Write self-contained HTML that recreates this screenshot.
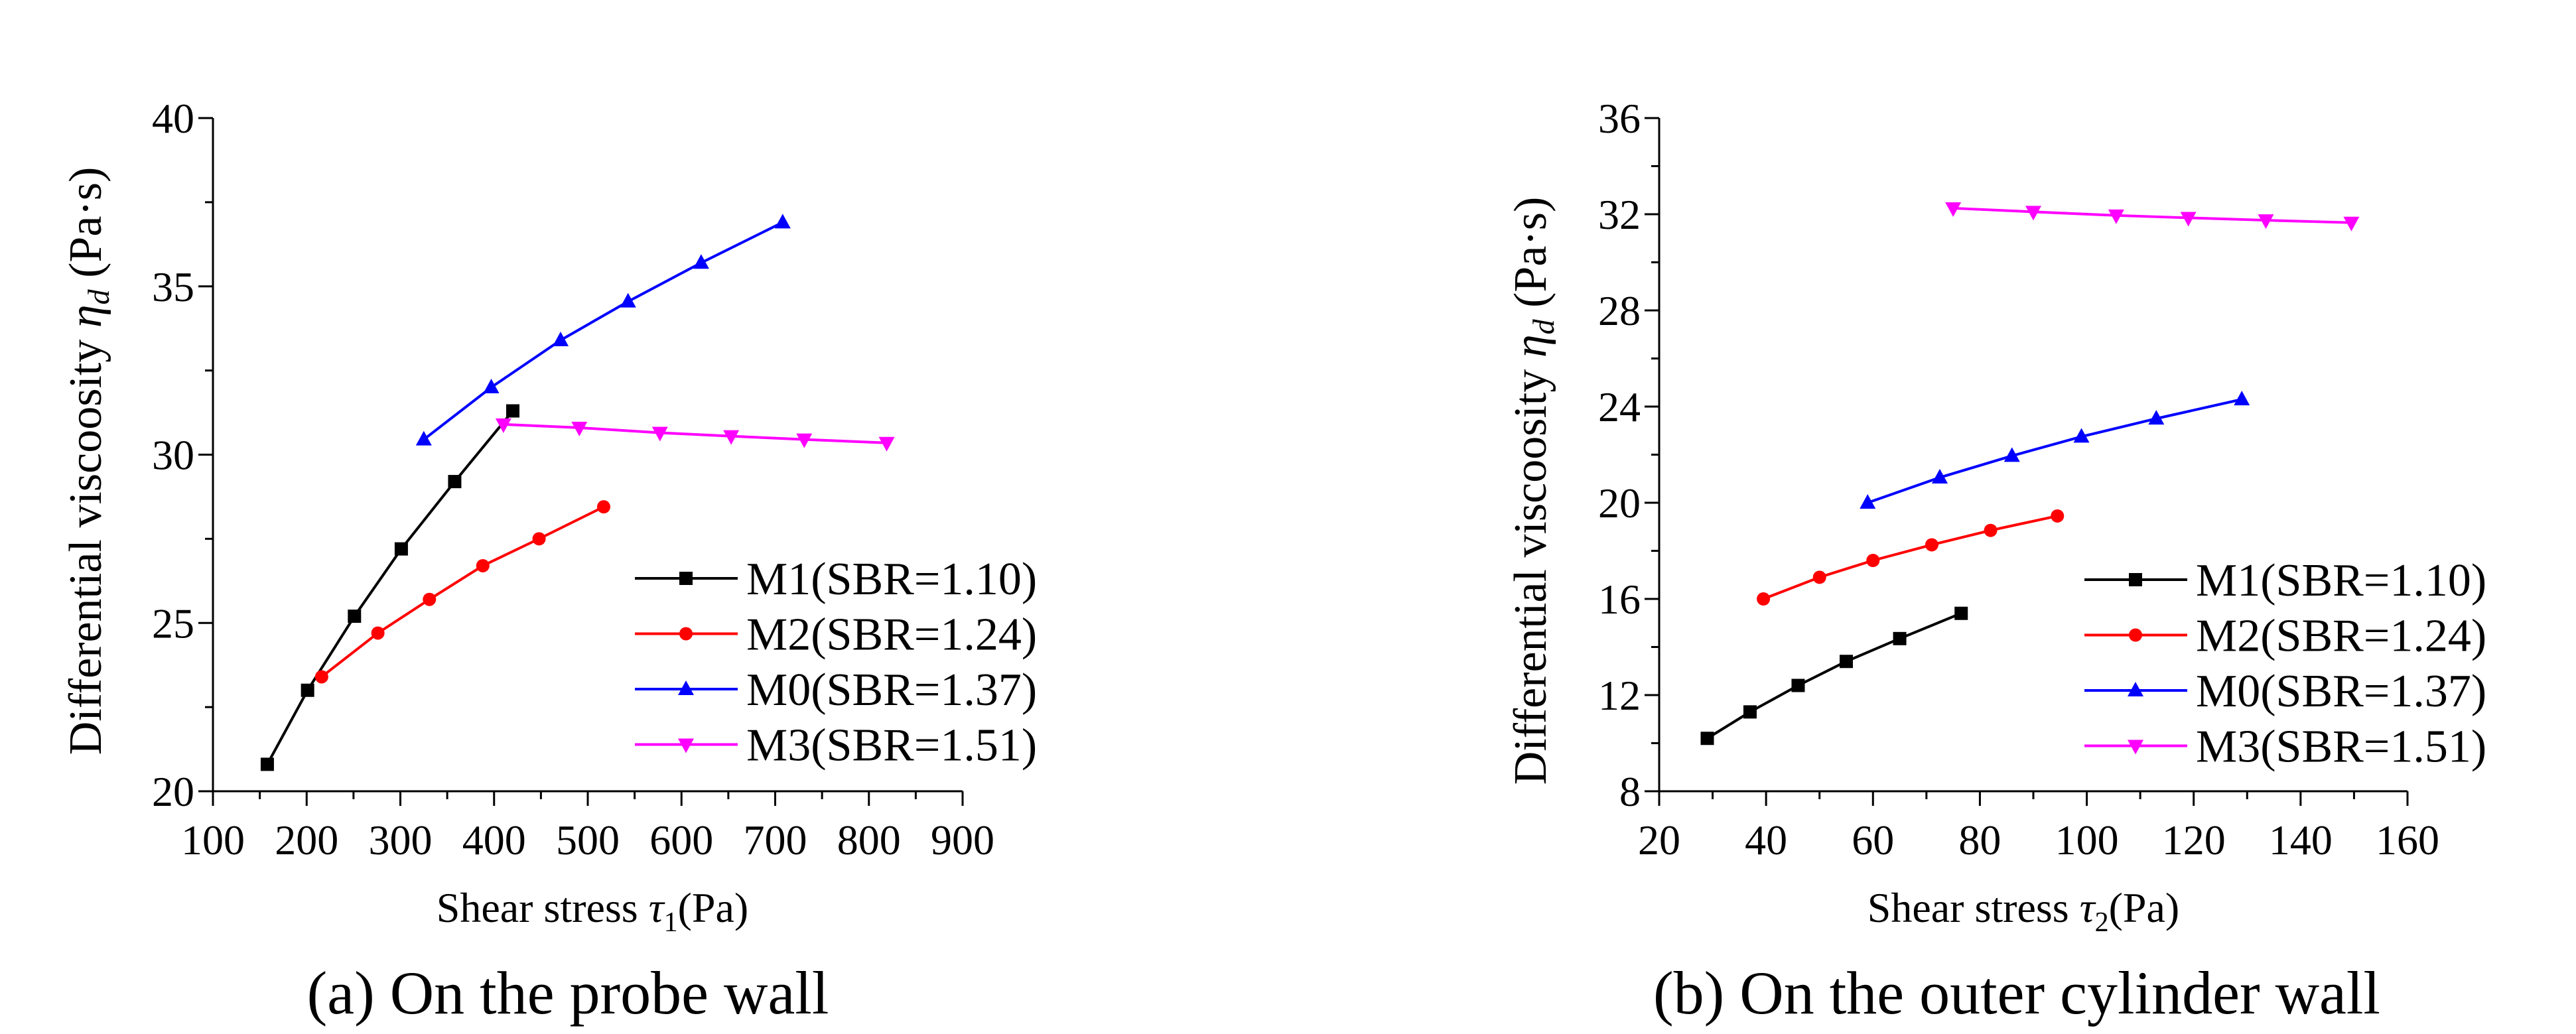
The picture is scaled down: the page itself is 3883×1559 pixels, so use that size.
<!DOCTYPE html>
<html><head><meta charset="utf-8"><style>
html,body{margin:0;padding:0;background:#fff;}
svg{display:block;}
svg text{font-family:"Liberation Serif","DejaVu Serif",serif;fill:#000;}
</style></head><body>
<svg id="fig" width="3883" height="1559" viewBox="0 0 3883 1559" xmlns="http://www.w3.org/2000/svg" font-family="'Liberation Serif', serif">
<rect width="3883" height="1559" fill="#fff"/>
</svg>
<script>
// ---- Panel (a) data ----
const aM1x=[158,201,251,301,358,420];
const aM1y=[20.8,23.0,25.2,27.2,29.2,31.3];
const aM2x=[216,276,331,388,448,517];
const aM2y=[23.4,24.7,25.7,26.7,27.5,28.45];
const aM0x=[325,397,471,543,621,708];
const aM0y=[30.45,32.0,33.4,34.55,35.7,36.9];
const aM3x=[410,491,577,653,731,819];
const aM3y=[30.9,30.8,30.65,30.55,30.45,30.35];
const aXTicks=[100,200,300,400,500,600,700,800,900];
const aYTicks=[20,25,30,35,40];
// ---- Panel (b) data ----
const bM1x=[29,37,46,55,65,76.5];
const bM1y=[10.2,11.3,12.4,13.4,14.35,15.4];
const bM2x=[39.5,50,60,71,82,94.5];
const bM2y=[16.0,16.9,17.6,18.25,18.85,19.45];
const bM0x=[59,72.5,86,99,113,129];
const bM0y=[20.0,21.05,21.95,22.75,23.5,24.3];
const bM3x=[75,90,105.5,119,133.5,149.5];
const bM3y=[32.25,32.1,31.95,31.85,31.75,31.65];
const bXTicks=[20,40,60,80,100,120,140,160];
const bYTicks=[8,12,16,20,24,28,32,36];
const legendLabels=["M1(SBR=1.10)","M2(SBR=1.24)","M0(SBR=1.37)","M3(SBR=1.51)"];
const seriesColors=["#000000","#ff0000","#0000ff","#ff00ff"];
const seriesMarkers=["square","circle","up","down"];

const NS="http://www.w3.org/2000/svg";
const svg=document.getElementById('fig');
const FF="Liberation Serif, serif";
function mk(tag,attrs,parent){const e=document.createElementNS(NS,tag);for(const k in attrs)e.setAttribute(k,attrs[k]);if(tag==='text')e.setAttribute('font-family',FF);(parent||svg).appendChild(e);return e;}

function marker(g,type,cx,cy,color){
  let e;
  if(type==='square'){e=mk('rect',{x:cx-10,y:cy-10,width:20,height:20,fill:color},g);}
  else if(type==='circle'){e=mk('circle',{cx:cx,cy:cy,r:10,fill:color},g);}
  else if(type==='up'){e=mk('polygon',{points:`${cx},${cy-13} ${cx+12},${cy+9} ${cx-12},${cy+9}`,fill:color},g);}
  else {e=mk('polygon',{points:`${cx},${cy+13} ${cx+12},${cy-9} ${cx-12},${cy-9}`,fill:color},g);}
  
  
}

function panel(cfg){
  const g=mk('g',{});
  
  
  const X=v=>cfg.x0+(v-cfg.xmin)/(cfg.xmax-cfg.xmin)*(cfg.x1-cfg.x0);
  const Y=v=>cfg.y0-(v-cfg.ymin)/(cfg.ymax-cfg.ymin)*(cfg.y0-cfg.y1);
  const ax=mk('line',{x1:cfg.x0-1.5,y1:cfg.y0,x2:cfg.x1,y2:cfg.y0,stroke:'#000','stroke-width':3},g);
  
  
  const ay=mk('line',{x1:cfg.x0,y1:cfg.y0,x2:cfg.x0,y2:cfg.y1,stroke:'#000','stroke-width':3},g);
  
  
  cfg.xt.forEach((v,i)=>{
    const x=X(v);
    mk('line',{x1:x,y1:cfg.y0,x2:x,y2:cfg.y0+22,stroke:'#000','stroke-width':3},g);
    if(i<cfg.xt.length-1){const xm=X((v+cfg.xt[i+1])/2);mk('line',{x1:xm,y1:cfg.y0,x2:xm,y2:cfg.y0+12,stroke:'#000','stroke-width':3},g);}
    const t=mk('text',{x:x,y:cfg.y0+95,'font-size':64,'text-anchor':'middle'},g);
    t.textContent=v;
    
    
  });
  cfg.yt.forEach((v,i)=>{
    const y=Y(v);
    mk('line',{x1:cfg.x0-22,y1:y,x2:cfg.x0,y2:y,stroke:'#000','stroke-width':3},g);
    if(i<cfg.yt.length-1){const ym=Y((v+cfg.yt[i+1])/2);mk('line',{x1:cfg.x0-12,y1:ym,x2:cfg.x0,y2:ym,stroke:'#000','stroke-width':3},g);}
    const t=mk('text',{x:cfg.x0-28,y:y+22,'font-size':64,'text-anchor':'end'},g);
    t.textContent=v;
    
    
  });
  cfg.series.forEach((s,k)=>{
    const sg=mk('g',{},g);
    
    
    const pts=s[0].map((v,i)=>X(v)+','+Y(s[1][i])).join(' ');
    mk('polyline',{points:pts,fill:'none',stroke:seriesColors[k],'stroke-width':4},sg);
    s[0].forEach((v,i)=>marker(sg,seriesMarkers[k],X(v),Y(s[1][i]),seriesColors[k]));
  });
  const lg=mk('g',{},g);
  
  
  legendLabels.forEach((lab,k)=>{
    const y=cfg.ly+k*83.5;
    const eg=mk('g',{},lg);
    
    
    mk('line',{x1:cfg.lx,y1:y,x2:cfg.lx+155,y2:y,stroke:seriesColors[k],'stroke-width':4},eg);
    marker(eg,seriesMarkers[k],cfg.lx+77,y,seriesColors[k]);
    const t=mk('text',{x:cfg.lx+168,y:y+24,'font-size':70},eg);
    t.textContent=lab;
  });
  const xt=mk('text',{x:cfg.xtx,y:1390,'font-size':64,'text-anchor':'middle'},g);
  xt.innerHTML='Shear stress  <tspan font-style="italic">τ</tspan><tspan font-size="42" dy="14">'+cfg.sub+'</tspan><tspan dy="-14">(Pa)</tspan>';
  
  
  const yt=mk('text',{x:0,y:0,'font-size':70,'text-anchor':'middle',transform:`translate(${cfg.ytx},${cfg.yty}) rotate(-90)`},g);
  yt.innerHTML='Differential viscoosity <tspan font-style="italic">η</tspan><tspan font-style="italic" font-size="46" dy="12">d</tspan><tspan dy="-12"> (Pa·s)</tspan>';
  
  
  const cap=mk('text',{x:cfg.capx,y:1528,'font-size':92,'text-anchor':'middle'},g);
  cap.textContent=cfg.caption;
  
  
}

panel({name:'panel-a',x0:321,x1:1451,y0:1193,y1:178,xmin:100,xmax:900,ymin:20,ymax:40,xt:aXTicks,yt:aYTicks,
  series:[[aM1x,aM1y],[aM2x,aM2y],[aM0x,aM0y],[aM3x,aM3y]],lx:957,ly:872,sub:'1',xtx:893,ytx:152,yty:695,
  capx:856,caption:'(a) On the probe wall'});
panel({name:'panel-b',x0:2501,x1:3629,y0:1193,y1:178,xmin:20,xmax:160,ymin:8,ymax:36,xt:bXTicks,yt:bYTicks,
  series:[[bM1x,bM1y],[bM2x,bM2y],[bM0x,bM0y],[bM3x,bM3y]],lx:3142,ly:874,sub:'2',xtx:3050,ytx:2330,yty:740,
  capx:3040,caption:'(b) On the outer cylinder wall'});
</script>
</body></html>
